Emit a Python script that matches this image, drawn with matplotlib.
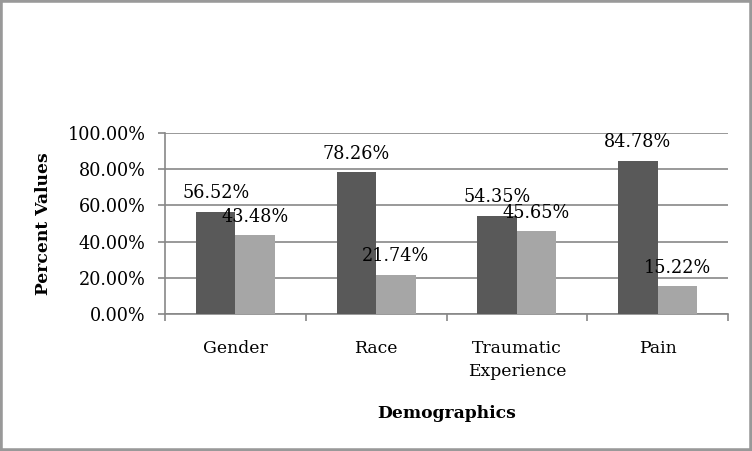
import matplotlib.pyplot as plt
import numpy as np
from matplotlib.patches import Rectangle

categories = ["Gender", "Race", "Traumatic\nExperience", "Pain"]
first_vals = [56.52, 78.26, 54.35, 84.78]
second_vals = [43.48, 21.74, 45.65, 15.22]
yticks = [0, 20, 40, 60, 80, 100]

plt.rcParams['font.family'] = ['DejaVu Serif']

dark = "#595959"
light = "#a6a6a6"
grid_c = "#878787"

fig = plt.figure(figsize=(7.52, 4.51), dpi=100)
ax = fig.add_axes([165/752, 1 - 314/451, (728-165)/752, (314-133)/451])

x = np.arange(len(categories))
w = 0.28
b1 = ax.bar(x - w/2, first_vals, w, color=dark, zorder=3)
b2 = ax.bar(x + w/2, second_vals, w, color=light, zorder=3)

for bars, vals in ((b1, first_vals), (b2, second_vals)):
    for r, v in zip(bars, vals):
        ax.annotate("%.2f%%" % v, (r.get_x() + r.get_width()/2, v),
                    xytext=(0, 13.5), textcoords="offset points",
                    ha="center", va="center", fontsize=12.7, zorder=5)

ax.set_xlim(-0.5, 3.5)
ax.set_ylim(0, 100)
ax.set_yticks(yticks)
ax.set_yticklabels(["%.2f%%" % t for t in yticks], fontsize=12.7)
ax.yaxis.grid(True, color=grid_c, lw=1.2, zorder=0)

# tick marks sit on category boundaries, labels in the middle
ax.set_xticks(np.arange(-0.5, 4, 1))
ax.set_xticklabels([])
ax.set_xticks(x, minor=True)
ax.set_xticklabels(categories, minor=True, fontsize=12.4, linespacing=1.5)
ax.tick_params(axis="x", which="minor", length=0, pad=18.5)
ax.tick_params(axis="x", which="major", length=5, color=grid_c, width=1.2)
ax.tick_params(axis="y", length=5, color=grid_c, width=1.2, pad=9)

for s in ("top", "right"):
    ax.spines[s].set_visible(False)
for s in ("left", "bottom"):
    ax.spines[s].set_color(grid_c)
    ax.spines[s].set_linewidth(1.2)

ax.set_ylabel("Percent Values", fontsize=12.3, fontweight="bold")
ax.yaxis.label.set_va("center")
ax.yaxis.set_label_coords((43-165)/563, 0.5)
ax.set_xlabel("Demographics", fontsize=12.3, fontweight="bold")
ax.xaxis.label.set_va("center")
ax.xaxis.set_label_coords(0.5, -(413-314)/181)

fig.patches.append(Rectangle((0, 0), 1, 1, transform=fig.transFigure,
                             fill=False, edgecolor="#999999", lw=4))

fig.savefig("out.png", dpi=100)
